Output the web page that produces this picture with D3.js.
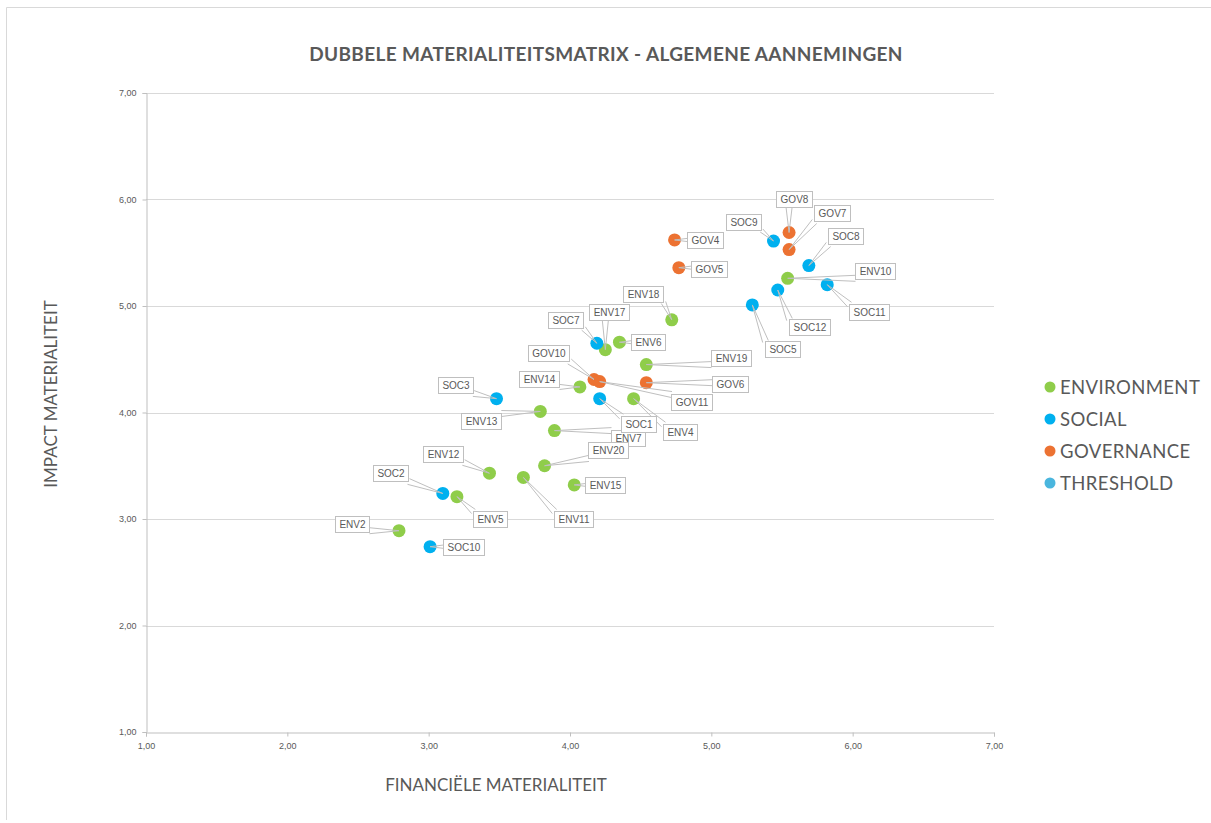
<!DOCTYPE html>
<html>
<head>
<meta charset="utf-8">
<script src="https://cdn.jsdelivr.net/npm/d3@7"></script>
<style>
  html, body { margin: 0; padding: 0; background: #fff; }
  svg { display: block; }
</style>
</head>
<body>
<svg id="chart" width="1211" height="823"></svg>
<script>
// ---------- DATA ----------
const categories = ["ENVIRONMENT", "SOCIAL", "GOVERNANCE", "THRESHOLD"];

const envLabels = ["ENV2","ENV4","ENV5","ENV6","ENV7","ENV10","ENV11","ENV12","ENV13","ENV14","ENV15","ENV17","ENV18","ENV19","ENV20"];
const envX      = [2.79, 4.45, 3.20, 4.35, 3.89, 5.54, 3.67, 3.43, 3.79, 4.07, 4.03, 4.25, 4.72, 4.54, 3.82];
const envY      = [2.89, 4.13, 3.21, 4.66, 3.83, 5.26, 3.39, 3.43, 4.01, 4.24, 3.32, 4.59, 4.87, 4.45, 3.50];

const socLabels = ["SOC1","SOC2","SOC3","SOC5","SOC7","SOC8","SOC9","SOC10","SOC11","SOC12"];
const socX      = [4.21, 3.10, 3.48, 5.29, 4.19, 5.69, 5.44, 3.01, 5.82, 5.47];
const socY      = [4.13, 3.24, 4.13, 5.01, 4.65, 5.38, 5.61, 2.74, 5.20, 5.15];

const govLabels = ["GOV4","GOV5","GOV6","GOV7","GOV8","GOV10","GOV11"];
const govX      = [4.74, 4.77, 4.54, 5.55, 5.55, 4.17, 4.21];
const govY      = [5.62, 5.36, 4.28, 5.53, 5.69, 4.31, 4.29];

const xTicks = [1, 2, 3, 4, 5, 6, 7];
const yTicks = [1, 2, 3, 4, 5, 6, 7];

const titleText = "DUBBELE MATERIALITEITSMATRIX - ALGEMENE AANNEMINGEN";
const xTitle = "FINANCIËLE MATERIALITEIT";
const yTitle = "IMPACT MATERIALITEIT";

// ---------- LAYOUT / STYLE (kept apart from data) ----------
const colors = { ENVIRONMENT: "#8fcd4a", SOCIAL: "#00b0ef", GOVERNANCE: "#ec7232", THRESHOLD: "#4ab6de" };
// label box offsets in pixels from the marker (box centre)
const labelOffset = {
  GOV8:[5,-34], GOV7:[43,-37], SOC9:[-30,-19], GOV4:[30,0], GOV5:[30,1], SOC8:[37,-30],
  ENV10:[87,-7], SOC11:[42,27], SOC12:[32,37], SOC5:[30,44], ENV18:[-29,-26], ENV17:[4,-38],
  SOC7:[-31,-23], ENV6:[29,0], ENV19:[85,-7], GOV10:[-46,-26], ENV14:[-41,-8], SOC3:[-41,-14],
  GOV6:[84,1], GOV11:[92,20], SOC1:[39,25], ENV4:[46,33], ENV13:[-59,10], ENV7:[74,7],
  ENV20:[63,-16], ENV12:[-46,-19], SOC2:[-52,-20], ENV5:[33,22], ENV11:[50,42], ENV15:[31,0],
  ENV2:[-47,-7], SOC10:[33,0]
};

const plot = { left: 146, right: 994, top: 93, bottom: 732 };
const textColor = "#595959";

const svg = d3.select("#chart");

// outer chart border (left & top visible)
svg.append("path")
  .attr("d", `M6.5,820 L6.5,7.5 L1215,7.5`)
  .attr("fill", "none").attr("stroke", "#d9d9d9").attr("stroke-width", 1);

const x = d3.scaleLinear().domain([1, 7]).range([plot.left, plot.right]);
const y = d3.scaleLinear().domain([1, 7]).range([plot.bottom, plot.top]);
const fmt = v => d3.format(".2f")(v).replace(".", ",");

// gridlines
svg.append("g").selectAll("line").data(yTicks.filter(t => t > 1)).join("line")
  .attr("x1", plot.left).attr("x2", plot.right)
  .attr("y1", d => Math.round(y(d)) + 0.5).attr("y2", d => Math.round(y(d)) + 0.5)
  .attr("stroke", "#d9d9d9").attr("stroke-width", 1);

// axes
const xAxis = d3.axisBottom(x).tickValues(xTicks).tickFormat(fmt).tickSize(4).tickPadding(6);
const yAxis = d3.axisLeft(y).tickValues(yTicks).tickFormat(fmt).tickSize(4).tickPadding(6);

const gx = svg.append("g").attr("transform", `translate(0,${plot.bottom + 0.5})`).call(xAxis);
const gy = svg.append("g").attr("transform", `translate(${plot.left + 0.5},0)`).call(yAxis);
[gx, gy].forEach(g => {
  g.select(".domain").attr("stroke", "#bfbfbf");
  g.selectAll(".tick line").attr("stroke", "#bfbfbf");
  g.selectAll(".tick text").attr("fill", textColor)
    .style("font-family", "'Liberation Sans', Arial, sans-serif").style("font-size", "9px");
});

// title
svg.append("text").attr("x", 606).attr("y", 61).attr("text-anchor", "middle")
  .attr("fill", textColor).style("font-family", "Lato, sans-serif").style("font-weight", "700")
  .style("font-size", "19px").style("letter-spacing", "0.35px").text(titleText);

// axis titles
svg.append("text").attr("x", 496).attr("y", 791).attr("text-anchor", "middle")
  .attr("fill", textColor).style("font-family", "Lato, sans-serif").style("font-size", "17px")
  .text(xTitle);
svg.append("text").attr("transform", "translate(57,394) rotate(-90)").attr("text-anchor", "middle")
  .attr("fill", textColor).style("font-family", "Lato, sans-serif").style("font-size", "17px")
  .text(yTitle);

// build point list
const points = [];
envLabels.forEach((l, i) => points.push({ label: l, cat: "ENVIRONMENT", x: envX[i], y: envY[i] }));
socLabels.forEach((l, i) => points.push({ label: l, cat: "SOCIAL", x: socX[i], y: socY[i] }));
govLabels.forEach((l, i) => points.push({ label: l, cat: "GOVERNANCE", x: govX[i], y: govY[i] }));

// markers
svg.append("g").selectAll("circle").data(points).join("circle")
  .attr("cx", d => x(d.x)).attr("cy", d => y(d.y)).attr("r", 6.5)
  .attr("fill", d => colors[d.cat]);

// labels: measure
const labelFont = "10px 'Liberation Sans', Arial, sans-serif";
const canvas = document.createElement("canvas").getContext("2d");
canvas.font = labelFont;

const lblData = points.map(d => {
  const px = x(d.x), py = y(d.y);
  const off = labelOffset[d.label] || [30, 0];
  const w = Math.round(canvas.measureText(d.label).width) + 8, h = 16;
  const cx = px + off[0], cy = py + off[1];
  const bx = Math.round(cx - w / 2) + 0.5, by = Math.round(cy - h / 2) + 0.5;
  const ax = Math.max(bx, Math.min(px, bx + w));
  const ay = Math.max(by, Math.min(py, by + h));
  return { ...d, px, py, w, h, bx, by, ax, ay };
});

// leader lines (thin wedges)
const leaders = svg.append("g");
lblData.forEach(d => {
  const dx = d.ax - d.px, dy = d.ay - d.py;
  const len = Math.hypot(dx, dy) || 1;
  const nx = -dy / len, ny = dx / len;
  const s = Math.min(3, len / 8);
  [-1, 1].forEach(k => {
    leaders.append("line")
      .attr("x1", d.px).attr("y1", d.py)
      .attr("x2", d.ax + k * s * nx).attr("y2", d.ay + k * s * ny)
      .attr("stroke", "#bfbfbf").attr("stroke-width", 1);
  });
});

// label boxes
const lg = svg.append("g").selectAll("g").data(lblData).join("g");
lg.append("rect").attr("x", d => d.bx).attr("y", d => d.by)
  .attr("width", d => d.w).attr("height", d => d.h)
  .attr("fill", "#fff").attr("stroke", "#bfbfbf").attr("stroke-width", 1);
lg.append("text").attr("x", d => d.bx + d.w / 2).attr("y", d => d.by + d.h / 2 + 3.5)
  .attr("text-anchor", "middle").attr("fill", textColor)
  .style("font", labelFont).text(d => d.label);

// legend
const leg = svg.append("g").selectAll("g").data(categories).join("g")
  .attr("transform", (d, i) => `translate(1050,${387 + i * 32})`);
leg.append("circle").attr("r", 5.5).attr("fill", d => colors[d]);
leg.append("text").attr("x", 10).attr("y", 6.5).attr("fill", textColor)
  .style("font-family", "Lato, sans-serif").style("font-size", "18.5px").style("letter-spacing", "0.4px")
  .text(d => d);
</script>
</body>
</html>
